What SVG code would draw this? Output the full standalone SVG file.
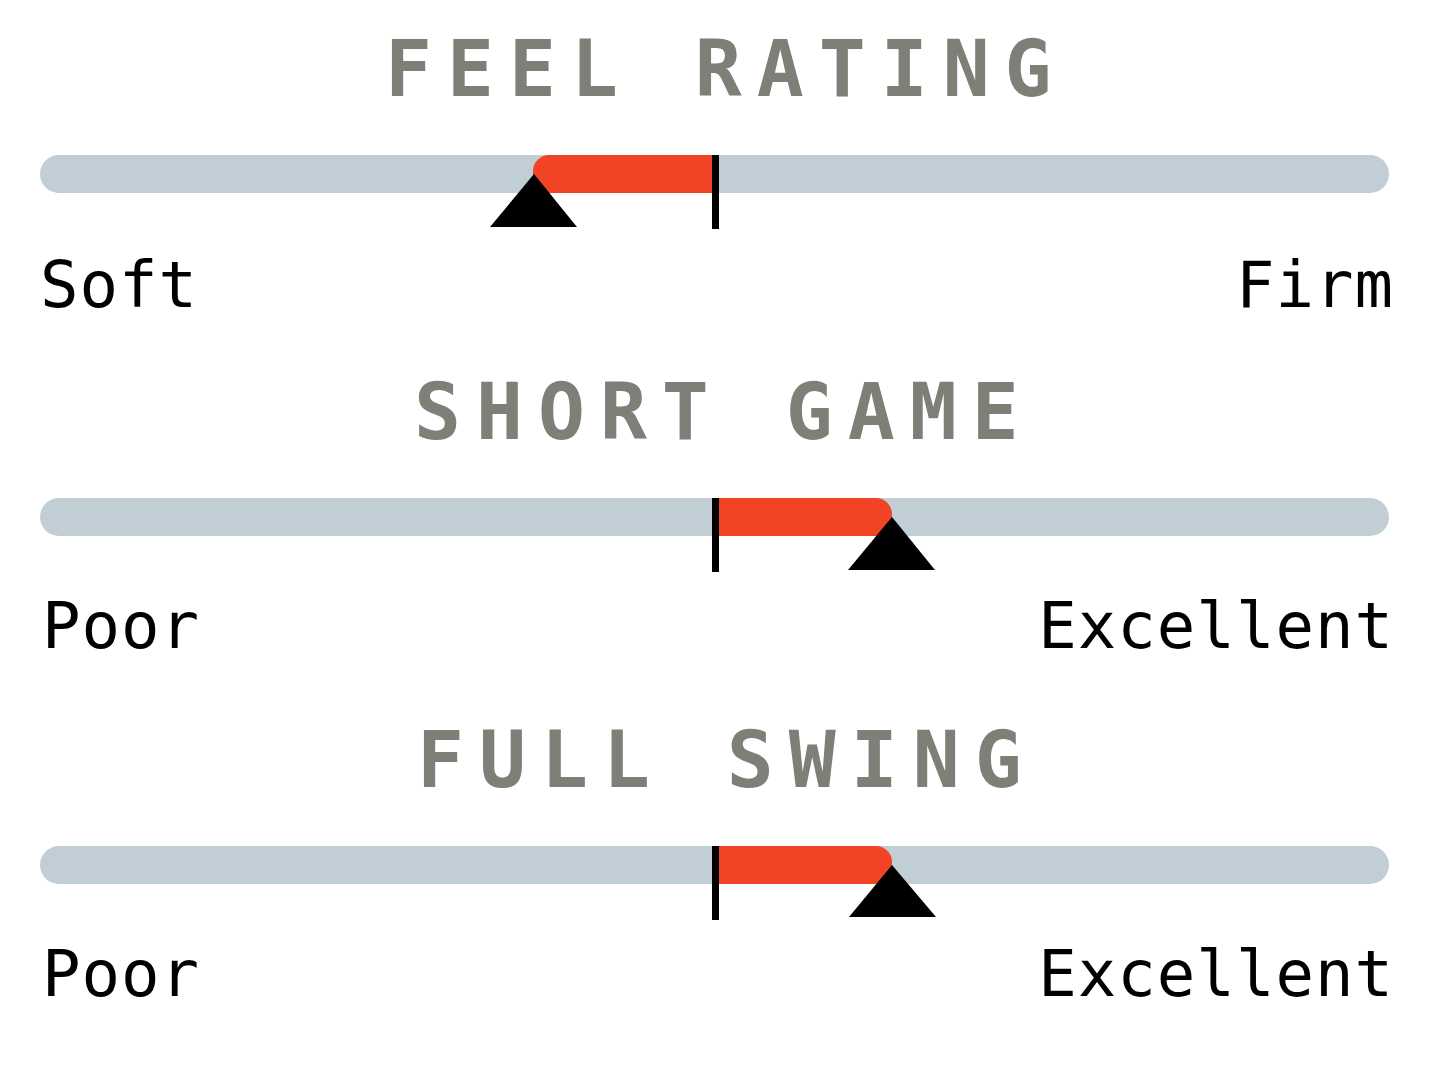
<svg xmlns="http://www.w3.org/2000/svg" width="1432" height="1085" viewBox="0 0 1432 1085">
  <style>
    .title { font-family: "DejaVu Sans Mono", "Liberation Mono", monospace; font-weight: bold; font-size: 78px; fill: #7f7f77; letter-spacing: 15px; }
    .label { font-family: "DejaVu Sans Mono", "Liberation Mono", monospace; font-size: 64px; fill: #000; letter-spacing: 1px; }
    .track { fill: #c2ced5; }
    .fill { fill: #f04424; }
    .tick { fill: #000; }
    .pointer { fill: #000; }
  </style>
  <rect width="1432" height="1085" fill="#ffffff"/>

  <g id="feel-rating">
    <text class="title" x="385" y="96">FEEL RATING</text>
    <rect class="track" x="40" y="155" width="1349" height="38" rx="19"/>
    <path class="fill" d="M533,193 V171 A16,16 0 0 1 549,155 H716 V193 Z"/>
    <rect class="tick" x="712" y="155" width="7" height="74"/>
    <polygon class="pointer" points="490,227 577,227 534,174"/>
    <text class="label" x="40" y="307">Soft</text>
    <text class="label" x="1394" y="307" text-anchor="end">Firm</text>
  </g>

  <g id="short-game">
    <text class="title" x="414" y="439">SHORT GAME</text>
    <rect class="track" x="40" y="498" width="1349" height="38" rx="19"/>
    <path class="fill" d="M716,498 H876 A16,16 0 0 1 892,514 V536 H716 Z"/>
    <rect class="tick" x="712" y="498" width="7" height="74"/>
    <polygon class="pointer" points="848,570 935,570 892,517"/>
    <text class="label" x="42" y="648">Poor</text>
    <text class="label" x="1394" y="648" text-anchor="end">Excellent</text>
  </g>

  <g id="full-swing">
    <text class="title" x="417" y="787">FULL SWING</text>
    <rect class="track" x="40" y="846" width="1349" height="38" rx="19"/>
    <path class="fill" d="M716,846 H876 A16,16 0 0 1 892,862 V884 H716 Z"/>
    <rect class="tick" x="712" y="846" width="7" height="74"/>
    <polygon class="pointer" points="849,917 936,917 892,865"/>
    <text class="label" x="42" y="996">Poor</text>
    <text class="label" x="1394" y="996" text-anchor="end">Excellent</text>
  </g>

  <g id="connectors"/>
</svg>
